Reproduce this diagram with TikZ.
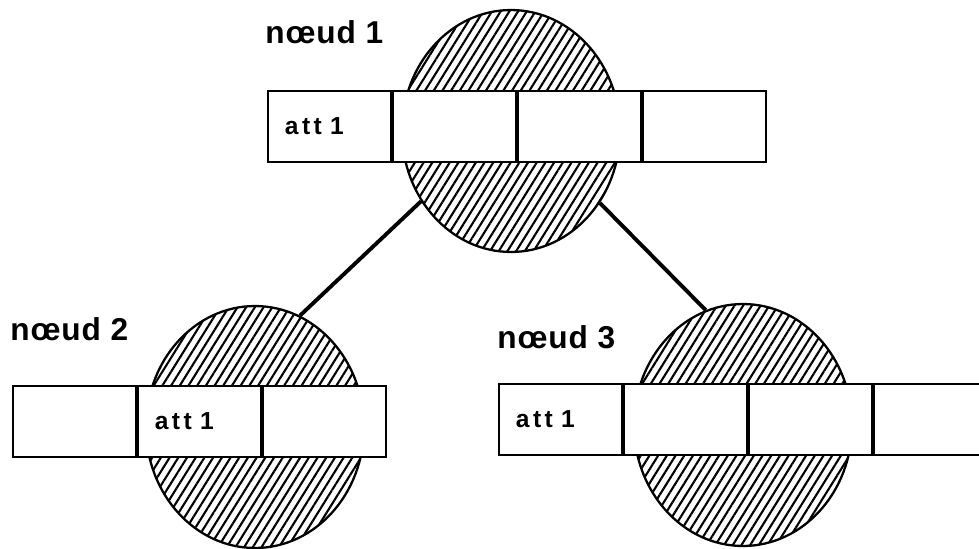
\documentclass[tikz,border=0pt]{standalone}
\usepackage{fontspec}
\newfontfamily\noeudfont{Liberation Sans}[LetterSpace=3]
\newfontfamily\attfont{Liberation Sans}[LetterSpace=14]
\usepackage{tikz}
\usetikzlibrary{shapes.geometric,patterns.meta}

\tikzset{
  noeud/.style={ellipse, draw, line width=1.3pt, inner sep=0pt,
    minimum width=4.36cm, minimum height=4.84cm,
    pattern={Lines[angle=58,distance=4.2pt,line width=1.2pt]}},
  cellule/.style={draw, line width=1.1pt, fill=white, anchor=north west,
    minimum width=2.46cm, minimum height=1.42cm, inner xsep=0.34cm,
    text width=1.78cm, align=left,
    font=\attfont\bfseries\fontsize{14}{16}\selectfont},
  titre/.style={anchor=base west, inner sep=0pt,
    font=\noeudfont\bfseries\fontsize{18}{20}\selectfont},
  lien/.style={line width=2.2pt}
}

\begin{document}
\begin{tikzpicture}[x=0.02cm,y=-0.02cm]
                    \useasboundingbox (0,0) rectangle (979,548);

                    % les trois noeuds
                    \node[noeud] (c1) at (511,131) {};
                    \node[noeud] (c2) at (255,427) {};
                    \node[noeud] (c3) at (743,425) {};

                    \draw[lien] (c1.218.6) -- (c2.68);
                    \draw[lien] (c1.321.6) -- (c3.108);

                    % noeud 1
                    \node[cellule] (a11) at (267,90) {att 1};
                    \node[cellule] (a12) at (a11.north east) {};
                    \node[cellule] (a13) at (a12.north east) {};
                    \node[cellule] (a14) at (a13.north east) {};

                    % noeud 2
                    \node[cellule] (a21) at (12,385) {};
                    \node[cellule] (a22) at (a21.north east) {att 1};
                    \node[cellule] (a23) at (a22.north east) {};

                    % noeud 3
                    \node[cellule] (a31) at (498,383) {att 1};
                    \node[cellule] (a32) at (a31.north east) {};
                    \node[cellule] (a33) at (a32.north east) {};
                    \node[cellule,minimum width=2.18cm,text width=1.5cm] (a34) at (a33.north east) {};

                    \node[titre] (t1) at (265,43) {nœud 1};
                    \node[titre] (t2) at (10,340) {nœud 2};
                    \node[titre] (t3) at (497,348) {nœud 3};
                \end{tikzpicture}
\end{document}
